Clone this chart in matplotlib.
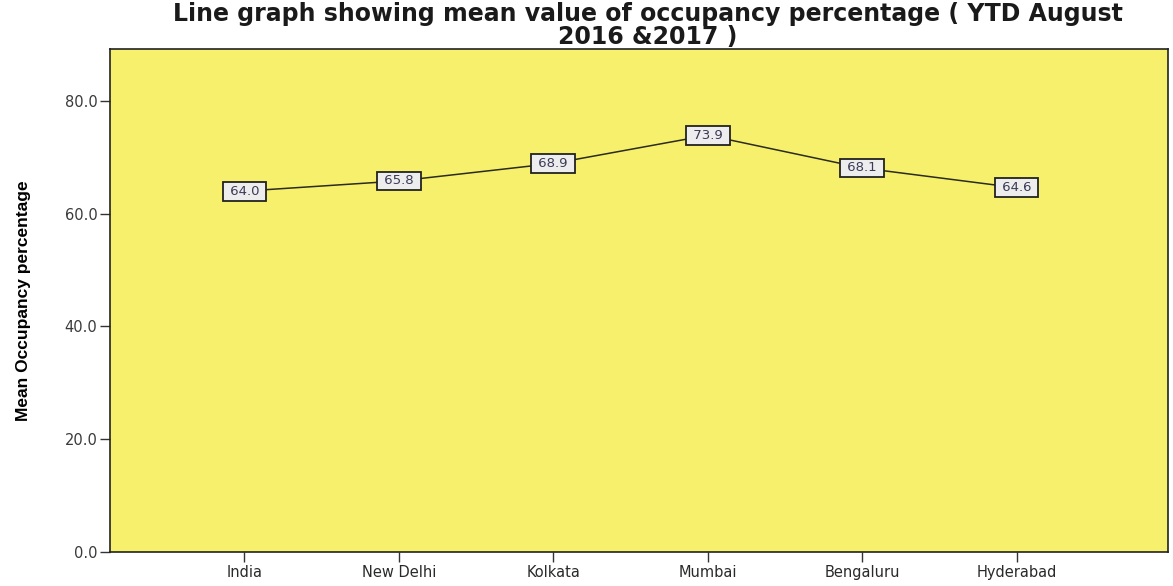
import matplotlib
matplotlib.use("Agg")
import matplotlib.pyplot as plt

cities = ["India", "New Delhi", "Kolkata", "Mumbai", "Bengaluru", "Hyderabad"]
mean_occupancy = [64.0, 65.8, 68.9, 73.9, 68.1, 64.6]
y_ticks = [0, 20, 40, 60, 80]

fig = plt.figure(figsize=(11.73, 5.86), dpi=100)
ax = fig.add_axes([0.0938, 0.058, 0.9019, 0.8584])
ax.set_facecolor("#f7f06c")

x = list(range(len(cities)))
ax.plot(x, mean_occupancy, color="#2b2b1a", linewidth=1.1, zorder=2)
for xi, v in zip(x, mean_occupancy):
    ax.text(xi, v, f" {v:.1f} ", ha="center", va="center", fontsize=9.5,
            family="DejaVu Sans", color="#3a3a58", zorder=3,
            bbox=dict(boxstyle="square,pad=0.22", facecolor="#ededee",
                      edgecolor="#222222", linewidth=1.3))

ax.set_xlim(-0.87, 5.98)
ax.set_ylim(0, 89.2)
ax.set_xticks(x)
ax.set_xticklabels(cities, fontsize=10.5, family="DejaVu Sans", color="#2a2a2a")
ax.set_yticks(y_ticks)
ax.set_yticklabels([f"{t:.1f}" for t in y_ticks], fontsize=10.5,
                   family="DejaVu Sans", color="#3a3a3a")
ax.tick_params(axis="both", direction="out", length=7, width=1, color="#333333")
ax.tick_params(axis="x", pad=2)
ax.tick_params(axis="y", pad=2)
for s in ax.spines.values():
    s.set_color("#222222")
    s.set_linewidth(1.2)

ax.set_ylabel("Mean Occupancy percentage", fontsize=12.5, fontweight="bold",
              family=["Liberation Sans Narrow", "Liberation Sans", "DejaVu Sans"],
              labelpad=24)

fig.text(0.552, 0.997,
         "Line graph showing mean value of occupancy percentage ( YTD August\n2016 &2017 )",
         ha="center", va="top", fontsize=17, fontweight="bold",
         family="DejaVu Sans", linespacing=0.95, color="#1a1a1a")

fig.savefig("out.png", dpi=100)
